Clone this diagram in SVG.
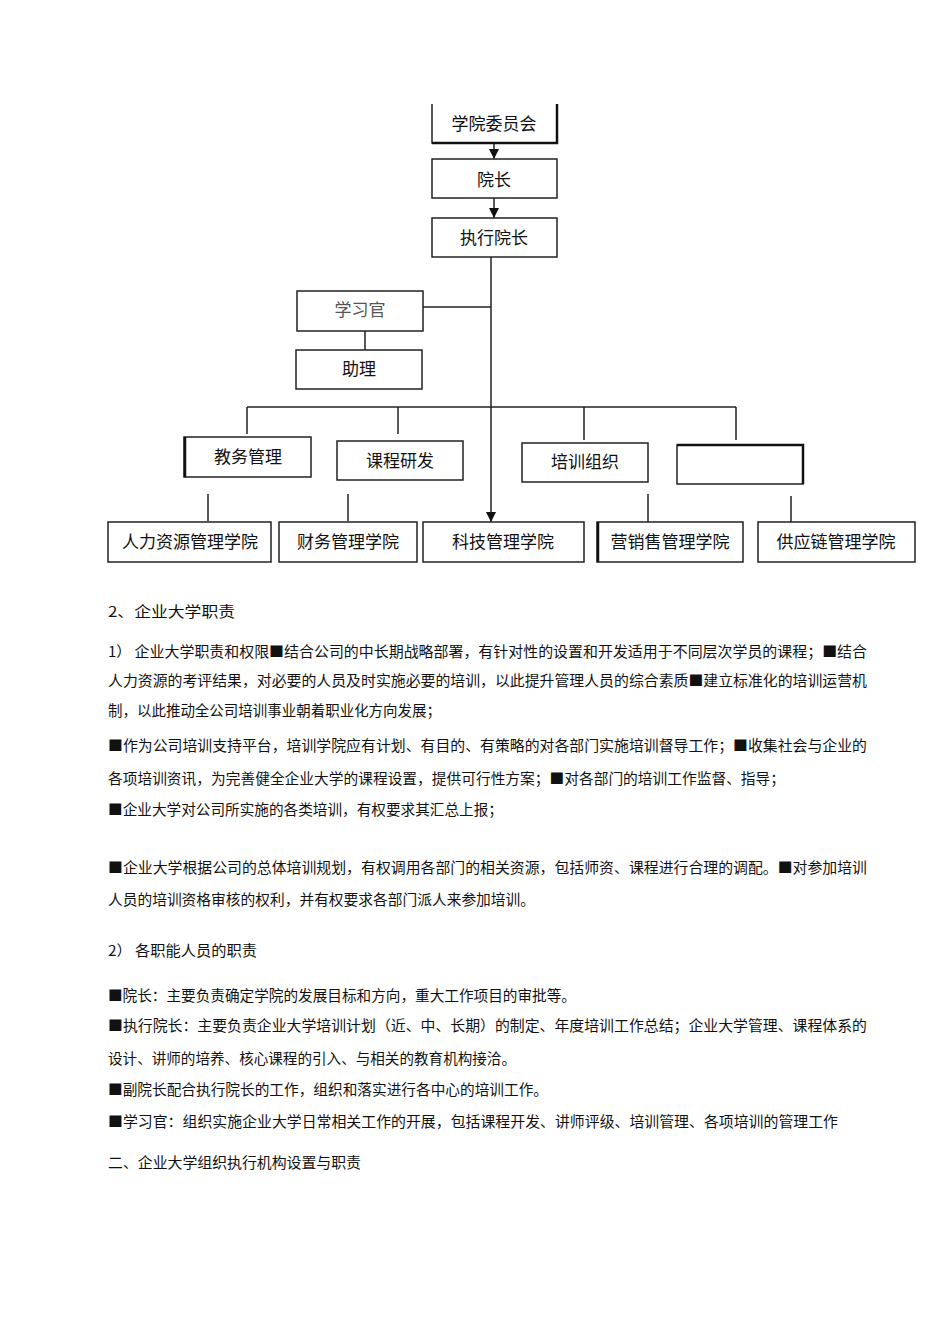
<svg xmlns="http://www.w3.org/2000/svg" width="950" height="1344" viewBox="0 0 950 1344">
<defs>
<style>
.box{fill:#fff;stroke:#222;stroke-width:1.5}
.thick{fill:none;stroke:#111;stroke-width:2.5}
.lbl{font-family:"Noto Sans CJK SC","Noto Sans",sans-serif;font-size:17px;fill:#111;text-anchor:middle}
.con{stroke:#222;stroke-width:1.5;fill:none}
.txt{font-family:"Noto Sans CJK SC","Liberation Sans",sans-serif;font-size:14.5px;fill:#111}
</style>
<marker id="ah" viewBox="0 0 10 10" refX="10" refY="5" markerWidth="10" markerHeight="10" markerUnits="userSpaceOnUse" orient="auto">
<path d="M0,0 L10,5 L0,10 z" fill="#111"/>
</marker>
</defs>
<rect width="950" height="1344" fill="#fff"/>

<g id="connectors">
<line class="con" x1="494" y1="143" x2="494" y2="159" marker-end="url(#ah)"/>
<line class="con" x1="494" y1="198" x2="494" y2="218" marker-end="url(#ah)"/>
<line class="con" x1="491" y1="257" x2="491" y2="522" marker-end="url(#ah)"/>
<line class="con" x1="423" y1="307" x2="491" y2="307"/>
<line class="con" x1="365" y1="331" x2="365" y2="350"/>
<line class="con" x1="247" y1="407" x2="736" y2="407"/>
<line class="con" x1="247" y1="407" x2="247" y2="434"/>
<line class="con" x1="398" y1="407" x2="398" y2="434"/>
<line class="con" x1="584" y1="407" x2="584" y2="440"/>
<line class="con" x1="736" y1="407" x2="736" y2="440"/>
<line class="con" x1="208" y1="494" x2="208" y2="521"/>
<line class="con" x1="348" y1="494" x2="348" y2="521"/>
<line class="con" x1="648" y1="494" x2="648" y2="522"/>
<line class="con" x1="791" y1="496" x2="791" y2="522"/>
</g>

<g id="node-committee">
<path class="box" d="M432,104 V143 H557 V104"/>
<path class="thick" d="M432,143 H557 V104"/>
<text class="lbl" x="494" y="130">学院委员会</text>
</g>
<g id="node-dean">
<rect class="box" x="432" y="159" width="125" height="39"/>
<text class="lbl" x="494" y="186">院长</text>
</g>
<g id="node-exec-dean">
<rect class="box" x="432" y="218" width="125" height="39"/>
<text class="lbl" x="494" y="244">执行院长</text>
</g>
<g id="node-learning-officer">
<rect class="box" x="297" y="291" width="126" height="40"/>
<text class="lbl" x="360" y="316" style="fill:#555">学习官</text>
</g>
<g id="node-assistant">
<rect class="box" x="296" y="350" width="126" height="39"/>
<text class="lbl" x="359" y="375">助理</text>
</g>
<g id="node-academic">
<rect class="box" x="184" y="437" width="127" height="40"/>
<line class="thick" x1="185" y1="437" x2="185" y2="477"/>
<text class="lbl" x="248" y="463">教务管理</text>
</g>
<g id="node-course">
<rect class="box" x="337" y="441" width="126" height="39"/>
<text class="lbl" x="400" y="467">课程研发</text>
</g>
<g id="node-training">
<rect class="box" x="522" y="443" width="126" height="39"/>
<text class="lbl" x="585" y="468">培训组织</text>
</g>
<g id="node-empty">
<rect class="box" x="677" y="445" width="126" height="39"/>
<path class="thick" d="M677,445 H803 V484"/>
</g>
<g id="node-hr">
<rect class="box" x="108" y="522" width="163" height="40"/>
<text class="lbl" x="190" y="548">人力资源管理学院</text>
</g>
<g id="node-finance">
<rect class="box" x="279" y="522" width="138" height="40"/>
<text class="lbl" x="348" y="548">财务管理学院</text>
</g>
<g id="node-tech">
<rect class="box" x="423" y="522" width="161" height="40"/>
<text class="lbl" x="503" y="548">科技管理学院</text>
</g>
<g id="node-marketing">
<rect class="box" x="597" y="522" width="146" height="40"/>
<line class="thick" x1="598" y1="522" x2="598" y2="562"/>
<text class="lbl" x="670" y="548">营销售管理学院</text>
</g>
<g id="node-supply">
<rect class="box" x="758" y="522" width="157" height="40"/>
<text class="lbl" x="836" y="548">供应链管理学院</text>
</g>

<g id="body-text">
<text class="txt" x="108" y="617" textLength="127" lengthAdjust="spacingAndGlyphs">2、企业大学职责</text>
<text class="txt" x="108" y="657" textLength="759" lengthAdjust="spacingAndGlyphs">1） 企业大学职责和权限■结合公司的中长期战略部署，有针对性的设置和开发适用于不同层次学员的课程；■结合</text>
<text class="txt" x="108" y="686" textLength="759" lengthAdjust="spacingAndGlyphs">人力资源的考评结果，对必要的人员及时实施必要的培训，以此提升管理人员的综合素质■建立标准化的培训运营机</text>
<text class="txt" x="108" y="716" textLength="333" lengthAdjust="spacingAndGlyphs">制，以此推动全公司培训事业朝着职业化方向发展；</text>
<text class="txt" x="108" y="751" textLength="759" lengthAdjust="spacingAndGlyphs">■作为公司培训支持平台，培训学院应有计划、有目的、有策略的对各部门实施培训督导工作；■收集社会与企业的</text>
<text class="txt" x="108" y="784" textLength="677" lengthAdjust="spacingAndGlyphs">各项培训资讯，为完善健全企业大学的课程设置，提供可行性方案；■对各部门的培训工作监督、指导；</text>
<text class="txt" x="108" y="815" textLength="395" lengthAdjust="spacingAndGlyphs">■企业大学对公司所实施的各类培训，有权要求其汇总上报；</text>
<text class="txt" x="108" y="873" textLength="759" lengthAdjust="spacingAndGlyphs">■企业大学根据公司的总体培训规划，有权调用各部门的相关资源，包括师资、课程进行合理的调配。■对参加培训</text>
<text class="txt" x="108" y="905" textLength="427" lengthAdjust="spacingAndGlyphs">人员的培训资格审核的权利，并有权要求各部门派人来参加培训。</text>
<text class="txt" x="108" y="956" textLength="149" lengthAdjust="spacingAndGlyphs">2） 各职能人员的职责</text>
<text class="txt" x="108" y="1001" textLength="468" lengthAdjust="spacingAndGlyphs">■院长：主要负责确定学院的发展目标和方向，重大工作项目的审批等。</text>
<text class="txt" x="108" y="1031" textLength="759" lengthAdjust="spacingAndGlyphs">■执行院长：主要负责企业大学培训计划（近、中、长期）的制定、年度培训工作总结；企业大学管理、课程体系的</text>
<text class="txt" x="108" y="1064" textLength="408" lengthAdjust="spacingAndGlyphs">设计、讲师的培养、核心课程的引入、与相关的教育机构接洽。</text>
<text class="txt" x="108" y="1095" textLength="440" lengthAdjust="spacingAndGlyphs">■副院长配合执行院长的工作，组织和落实进行各中心的培训工作。</text>
<text class="txt" x="108" y="1127" textLength="730" lengthAdjust="spacingAndGlyphs">■学习官：组织实施企业大学日常相关工作的开展，包括课程开发、讲师评级、培训管理、各项培训的管理工作</text>
<text class="txt" x="108" y="1168" textLength="253" lengthAdjust="spacingAndGlyphs">二、企业大学组织执行机构设置与职责</text>
</g>
</svg>
